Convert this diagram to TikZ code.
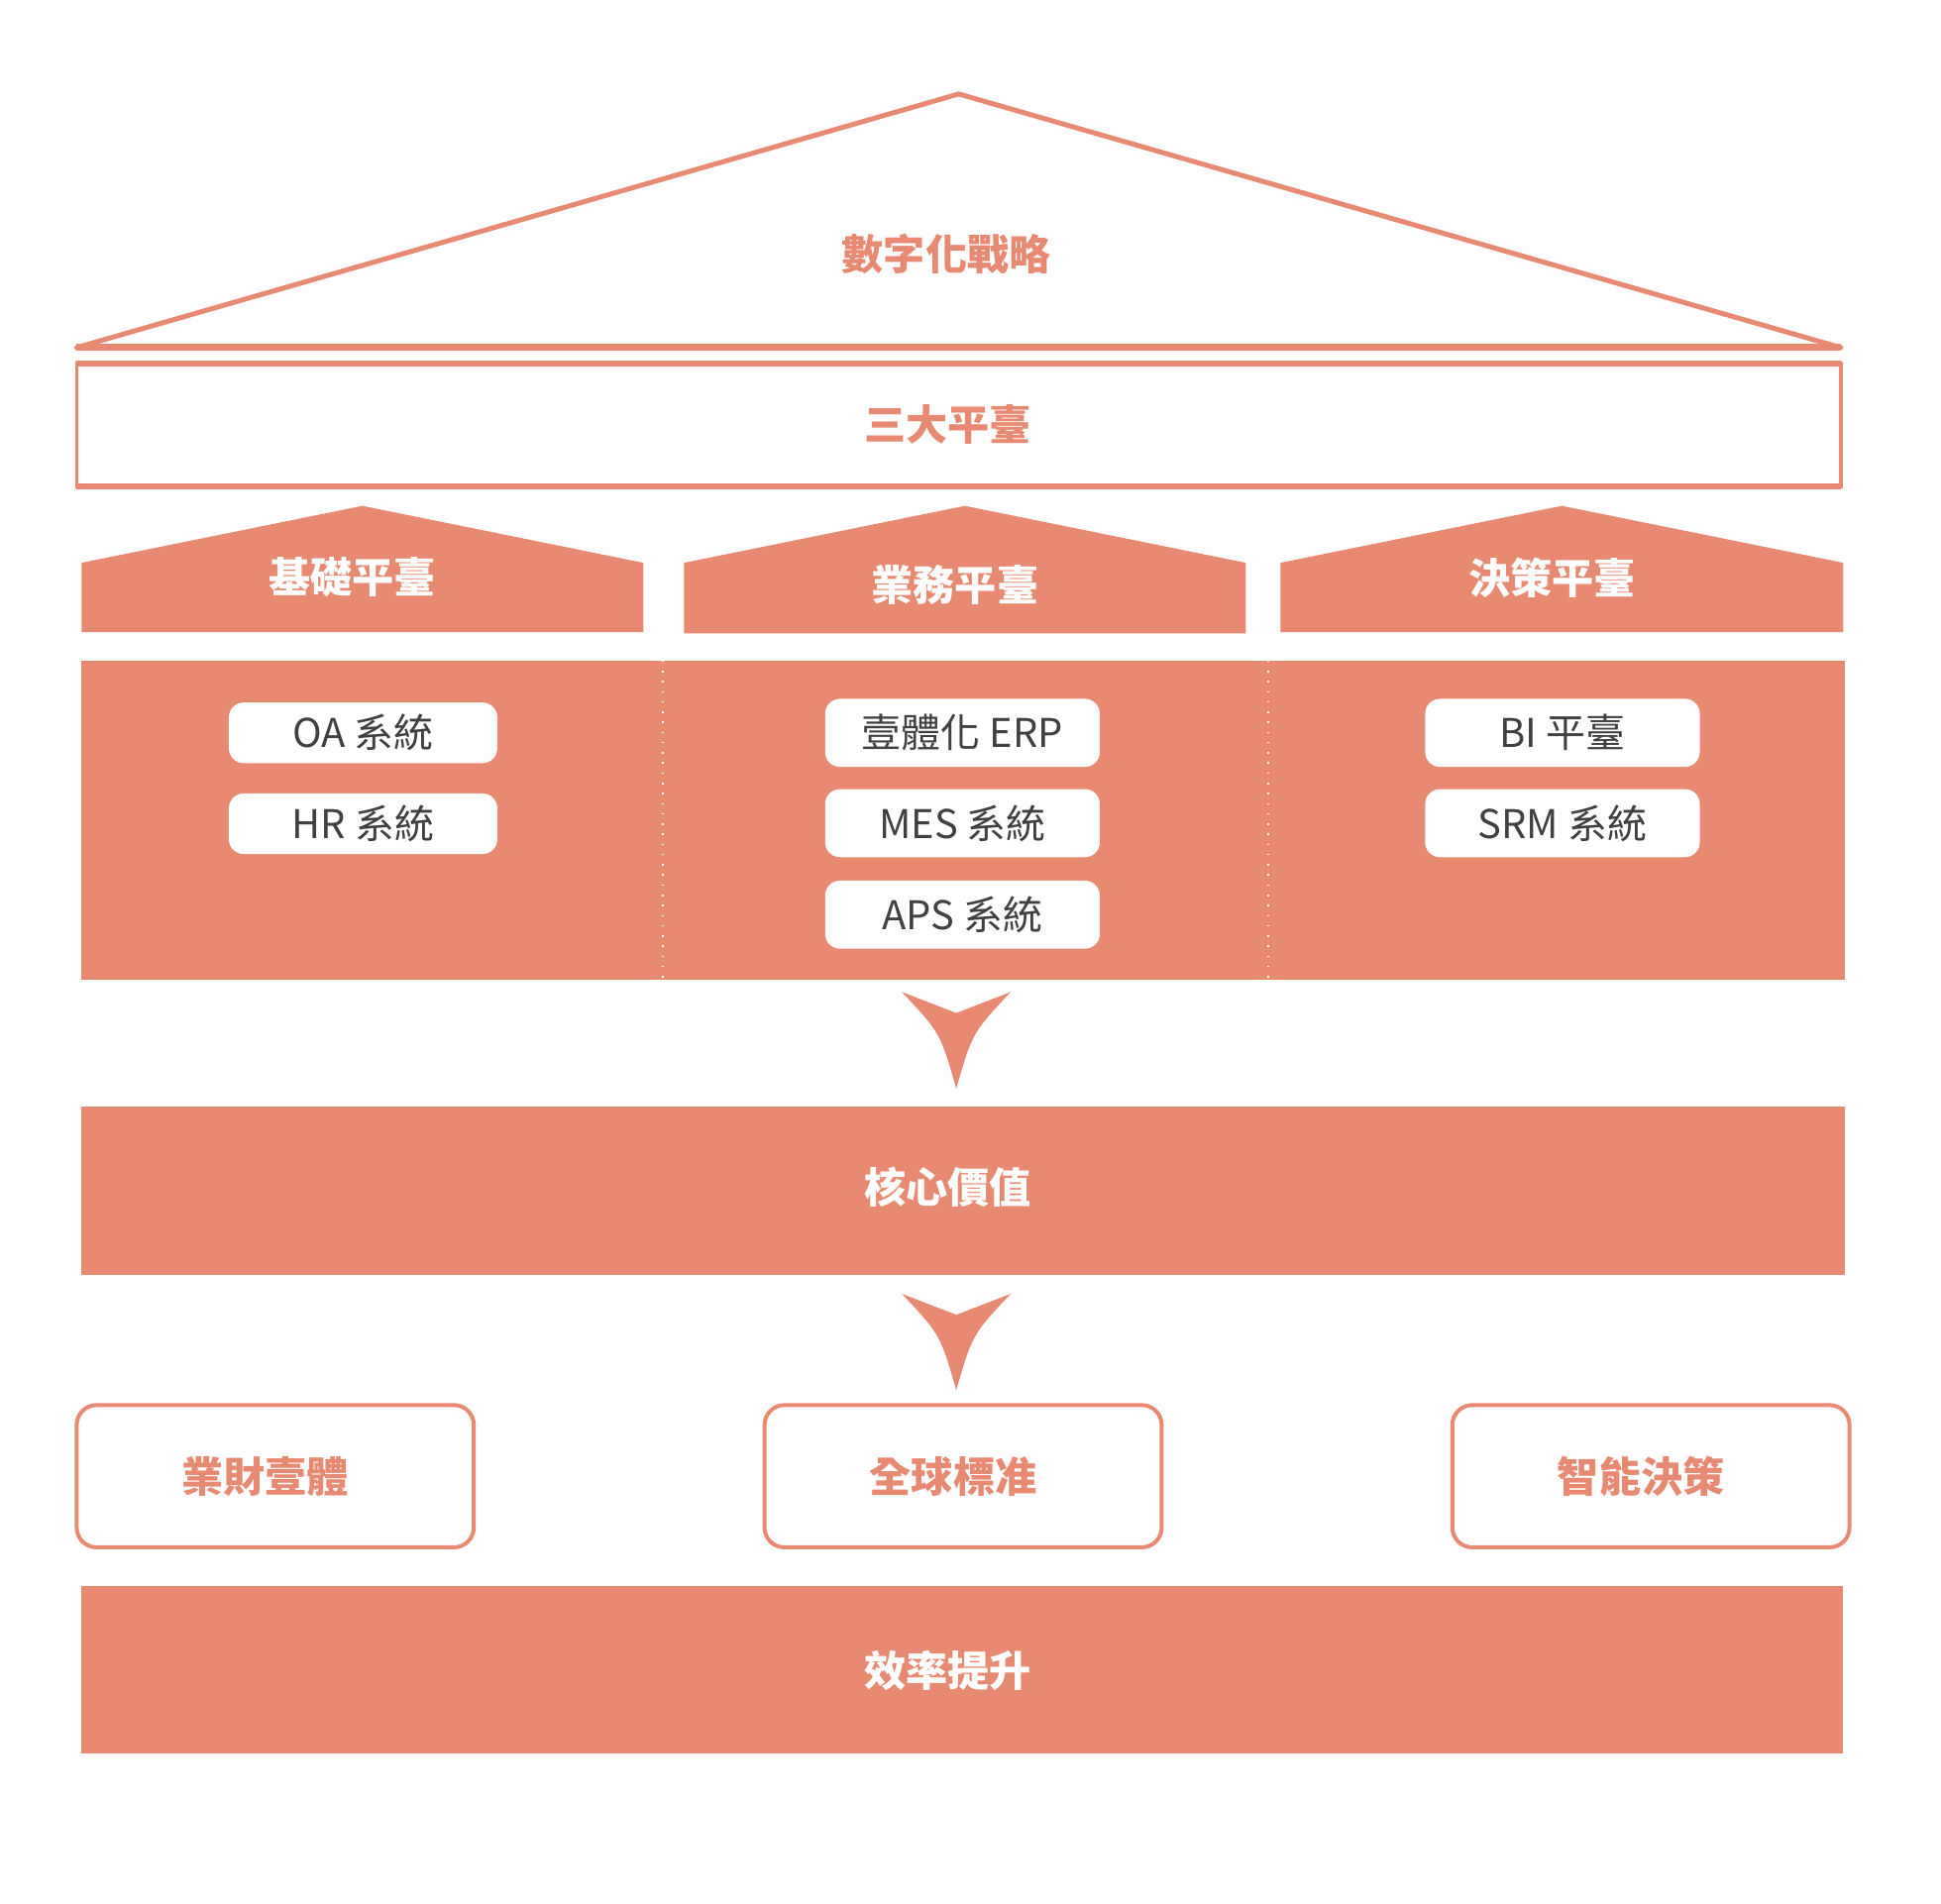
\documentclass[tikz,border=0pt]{standalone}
\usepackage{fontspec}
\setmainfont{Noto Sans CJK TC}
\definecolor{salmon}{HTML}{E88A71}
\definecolor{pilltext}{HTML}{404040}
\tikzset{
  head/.style={font=\fontsize{9.6}{11}\selectfont\bfseries, inner sep=0pt},
  pill/.style={fill=white, rounded corners=1.2mm, text=pilltext, inner sep=0pt,
    font=\fontsize{9.1}{10}\selectfont},
  goal/.style={draw=salmon, line width=0.32mm, rounded corners=1.6mm,
    minimum width=32.1mm, minimum height=11.5mm},
}

\begin{document}
\begin{tikzpicture}[x=0.1mm, y=-0.1mm]
        \useasboundingbox (0, 0) rectangle (1569, 1538.6);
        % roof
        \draw[salmon, line width=0.4mm, line join=round] (62, 281) -- (775, 76) -- (1488, 281) -- cycle;
        \draw[salmon, line width=0.55mm] (62, 281) -- (1488, 281);
        \node[head, text=salmon] (strategy) at (765, 205) {數字化戰略};
        % three platforms bar
        \draw[salmon, line width=0.3mm] (62, 294) rectangle (1488, 393);
        \draw[salmon, line width=0.5mm] (62, 294) -- (1488, 294) (62, 393) -- (1488, 393);
        \node[head, text=salmon] (platforms) at (766, 343) {三大平臺};
        % small houses
        \foreach \n/\xl/\xr/\t/\s in {base/66/520/基礎平臺/0, biz/553/1007/業務平臺/6, deci/1035/1490/決策平臺/0}{
        \fill[salmon] (\xl, 511+\s/6) -- (\xl, 455) -- ({(\xl+\xr)/2}, 409) -- (\xr, 455) -- (\xr, 511+\s/6) -- cycle;
        \node[head, text=white] (\n) at ({(\xl+\xr)/2-8}, 467+\s) {\t};}
        % systems block
        \fill[salmon] (66, 534) rectangle (1491, 792);
        \foreach \x in {536, 1025}
        \draw[white, dotted, line width=0.12mm] (\x, 534) -- (\x, 792);
        \foreach \n/\y/\t in {oa/592.5/OA 系統, hr/666/HR 系統}
        \node[pill, minimum width=21.7mm, minimum height=4.9mm] (\n) at (293.5, \y) {\t};
        \foreach \n/\y/\t in {erp/592.5/壹體化 ERP, mes/665.5/MES 系統, aps/739.5/APS 系統}
        \node[pill, minimum width=22.2mm, minimum height=5.5mm] (\n) at (778, \y) {\t};
        \foreach \n/\y/\t in {bi/592.5/BI 平臺, srm/665.5/SRM 系統}
        \node[pill, minimum width=22.2mm, minimum height=5.5mm] (\n) at (1263, \y) {\t};
        % arrows
        \foreach \y in {802, 1046}
        \fill[salmon] (729, \y) -- (773, \y+17) -- (817, \y) .. controls (786, \y+33) .. (773, \y+78)
            .. controls (760, \y+33) .. (729, \y) -- cycle;
        % core value
        \fill[salmon] (66, 895) rectangle (1491, 1031);
        \node[head, text=white] (core) at (766, 960) {核心價值};
        % goals
        \foreach \n/\x/\t in {fin/222.5/業財壹體, glob/778.5/全球標准, smart/1334.5/智能決策}{
        \node[goal] (\n) at (\x, 1193.5) {};
        \node[head, text=salmon] (\n text) at ([xshift=-0.8mm]\n.center) {\t};}
        % efficiency
        \fill[salmon] (66, 1282) rectangle (1490, 1418);
        \node[head, text=white] (eff) at (766, 1351) {效率提升};
        \end{tikzpicture}
\end{document}
